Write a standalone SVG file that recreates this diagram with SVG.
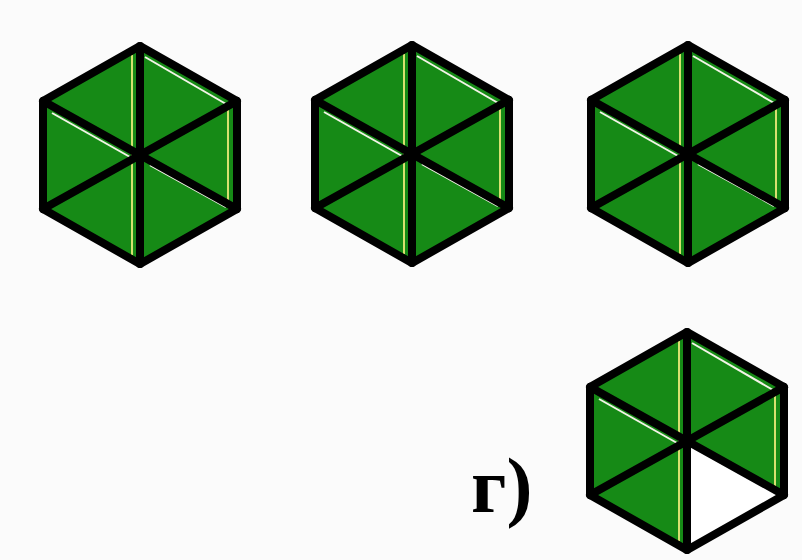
<svg xmlns="http://www.w3.org/2000/svg" width="802" height="560" viewBox="0 0 802 560">
<style>
.tri{fill:#168a16}
.blank{fill:#ffffff}
.edge{fill:none;stroke:#000;stroke-width:8;stroke-linejoin:round;stroke-linecap:round}
.hl-w{stroke:#f4f4e8;stroke-width:2;fill:none}
.hl-y{stroke:#d8e070;stroke-width:2;fill:none}
.lbl{font-family:"Liberation Serif","Times New Roman",serif;font-weight:bold;font-size:78px;fill:#000}
</style>
<defs>
<g id="hl">
<line class="hl-y" x1="-8" y1="-100" x2="-8" y2="100"/>
<line class="hl-y" x1="88" y1="-46" x2="88" y2="46"/>
<line class="hl-w" x1="-88" y1="-42" x2="-10" y2="2"/>
<line class="hl-w" x1="5" y1="-98" x2="86" y2="-51"/>
</g>
<g id="lines">
<polygon class="edge" points="0,-109 97,-54 97,54 0,109 -97,54 -97,-54"/>
<line class="edge" x1="0" y1="-109" x2="0" y2="109"/>
<line class="edge" x1="-97" y1="-54" x2="97" y2="54"/>
<line class="edge" x1="97" y1="-54" x2="-97" y2="54"/>
</g>
<g id="hexfull">
<polygon class="tri" points="0,-109 97,-54 97,54 0,109 -97,54 -97,-54"/>
<use href="#hl"/>
<line class="hl-w" x1="10" y1="10" x2="86" y2="52"/>
<use href="#lines"/>
</g>
</defs>
<rect width="802" height="560" fill="#fbfbfb"/>
<g id="hex1" transform="translate(140,155)"><use href="#hexfull"/></g>
<g id="hex2" transform="translate(412,154)"><use href="#hexfull"/></g>
<g id="hex3" transform="translate(688,154)"><use href="#hexfull"/></g>
<g id="hex4" transform="translate(687,441)">
<polygon class="tri" points="0,-109 97,-54 97,54 0,0 0,109 -97,54 -97,-54"/>
<polygon class="blank" points="0,0 97,54 0,109"/>
<use href="#hl"/>
<use href="#lines"/>
</g>
<g id="label"><text class="lbl" x="471" y="512">г)</text></g>
</svg>
